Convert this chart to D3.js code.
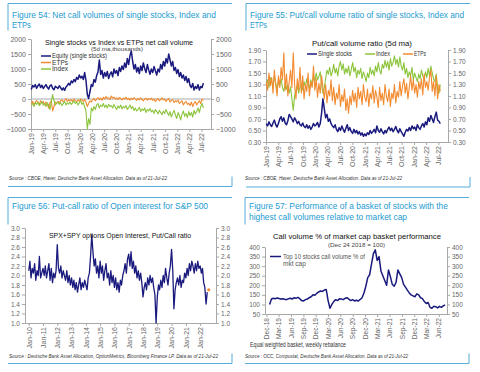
<!DOCTYPE html>
<html>
<head>
<meta charset="utf-8">
<script src="https://cdn.jsdelivr.net/npm/d3@7"></script>
<style>
  body { margin: 0; background: #fff; }
  svg { display: block; font-family: "Liberation Sans", Arial, sans-serif; }
</style>
</head>
<body>
<svg id="chart" width="480" height="372"></svg>
<script>
// Fig 54: net call volume (5d ma, thousands), one reading every 10 days from 2-Jan-19
const netEquity = [
  320, 450, 400, 480, 360, 440, 500, 380, 460, 350,
  420, 480, 390, 330, 440, 470, 360, 310, 420, 390,
  350, 440, 380, 300, 370, 290, 400, 450, 520, 470,
  600, 540, 650, 580, 720, 660, 800, 700, 760, 650,
  880, 620, 150, 20, 250, 480, 420, 650, 560, 780,
  900, 1300, 820, 950, 700, 880, 760, 920, 680, 830,
  900, 740, 1000, 860, 950, 780, 1050, 920, 1100, 980,
  1200, 1050, 1350, 1150, 1450, 1600, 1250, 1000, 1150, 900,
  1050, 850, 1100, 950, 1200, 1020, 880, 1150, 970, 820,
  1000, 880, 1080, 940, 800, 1000, 900, 1150, 1000, 1250,
  1100, 1350, 1200, 1500, 1300, 1100, 1250, 950, 1050, 850,
  980, 750, 880, 700, 800, 620, 750, 550, 680, 450,
  380, 520, 300, 420, 350, 480, 300, 420, 380, 530
];
const netEtps = [
  -150, -80, -200, -100, -50, -120, -180, -60, -140, -90,
  -200, -100, -150, -300, -120, -60, -400, -250, -100, -150,
  -80, -120, -60, -30, -100, -50, 10, -80, -30, -60,
  -20, -90, 0, -50, -100, -30, -70, 0, -40, -80,
  -20, -100, -250, -150, -60, -100, -30, 20, -60, 0,
  50, -20, 30, -40, 60, 0, 80, 20, 40, -10,
  100, 30, 60, 0, 40, -20, 50, 10, -30, 30,
  0, 60, -20, 20, -40, 30, -10, 50, 0, -50,
  20, -30, 40, -10, -60, 0, 30, -40, 10, -20,
  30, -50, 0, -80, -20, 20, -60, -10, 40, -30,
  0, -80, -30, 10, -100, -50, -20, -120, -60, -90,
  -40, -150, -100, -60, -200, -120, -80, -180, -140, -220,
  -100, -250, -150, -80, -200, -120, -60, -150, 0, -50
];
const netIndex = [
  -200, -150, -250, -120, -180, -100, -220, -160, -80, -200,
  -150, -250, -130, -200, -350, -100, 150, -50, -200, -150,
  -100, -180, -120, -220, -150, -80, -200, -130, -170, -100,
  -180, -120, -60, -150, -100, -200, -130, -50, -180, -120,
  -250, -400, -1000, -650, -850, -300, -400, -250, -350, -200,
  -150, -300, -200, -250, -150, -280, -200, -300, -180, -250,
  -220, -300, -180, -280, -350, -230, -300, -200, -330, -250,
  -300, -220, -350, -280, -200, -320, -250, -380, -300, -400,
  -350, -280, -420, -330, -380, -300, -450, -350, -400, -320,
  -430, -380, -480, -350, -420, -500, -380, -450, -520, -400,
  -480, -350, -450, -550, -420, -600, -480, -380, -520, -650,
  -450, -550, -700, -500, -400, -580, -480, -620, -420, -550,
  -450, -600, -380, -500, -420, -300, -450, -250, -150, -300
];

// Fig 55: put/call volume ratio (5d ma), same 10-day steps
const pcSingle = [
  0.62, 0.58, 0.65, 0.60, 0.57, 0.63, 0.68, 0.60, 0.56, 0.62,
  0.70, 0.74, 0.66, 0.72, 0.63, 0.60, 0.67, 0.78, 0.74, 0.70,
  0.65, 0.72, 0.68, 0.62, 0.66, 0.60, 0.58, 0.63, 0.57, 0.55,
  0.60, 0.54, 0.58, 0.52, 0.56, 0.62, 0.58, 0.60, 0.64, 0.56,
  0.62, 0.80, 1.05, 0.88, 0.72, 0.78, 0.66, 0.70, 0.62, 0.58,
  0.55, 0.60, 0.52, 0.48, 0.55, 0.50, 0.58, 0.52, 0.47, 0.54,
  0.60, 0.50, 0.55, 0.48, 0.45, 0.52, 0.46, 0.50, 0.44, 0.48,
  0.42, 0.46, 0.40, 0.44, 0.41, 0.46, 0.43, 0.50, 0.45, 0.48,
  0.52, 0.46, 0.58, 0.50, 0.47, 0.53, 0.48, 0.44, 0.50, 0.46,
  0.52, 0.56, 0.50, 0.54, 0.48, 0.52, 0.57, 0.50, 0.46, 0.53,
  0.48, 0.44, 0.40, 0.47, 0.52, 0.49, 0.55, 0.50, 0.58, 0.53,
  0.56, 0.50, 0.60, 0.55, 0.52, 0.58, 0.62, 0.56, 0.65, 0.60,
  0.72, 0.66, 0.76, 0.70, 0.64, 0.74, 0.82, 0.68, 0.66, 0.62
];
const pcIndex = [
  1.30, 1.38, 1.25, 1.42, 1.35, 1.28, 1.45, 1.32, 1.22, 1.36,
  1.28, 1.40, 1.25, 1.18, 1.32, 1.22, 1.30, 1.15, 1.26, 1.05,
  0.85, 1.10, 1.20, 1.28, 1.15, 1.25, 1.32, 1.20, 1.35, 1.26,
  1.40, 1.30, 1.22, 1.38, 1.28, 1.45, 1.35, 1.50, 1.38, 1.44,
  1.52, 1.30, 1.15, 1.25, 1.40, 1.55, 1.48, 1.60, 1.45, 1.52,
  1.65, 1.50, 1.58, 1.45, 1.62, 1.70, 1.55, 1.66, 1.48, 1.58,
  1.50, 1.62, 1.45, 1.56, 1.68, 1.52, 1.60, 1.42, 1.55, 1.48,
  1.58, 1.40, 1.52, 1.45, 1.35, 1.50, 1.42, 1.60, 1.48, 1.55,
  1.45, 1.62, 1.52, 1.68, 1.55, 1.48, 1.65, 1.58, 1.72, 1.60,
  1.70, 1.55, 1.75, 1.62, 1.68, 1.80, 1.65, 1.74, 1.60, 1.78,
  1.62, 1.55, 1.68, 1.48, 1.58, 1.42, 1.52, 1.45, 1.60, 1.38,
  1.50, 1.42, 1.35, 1.48, 1.40, 1.55, 1.45, 1.38, 1.52, 1.42,
  1.58, 1.45, 1.62, 1.50, 1.40, 1.35, 1.48, 1.22, 1.15, 1.30
];
const pcEtps = [
  1.35, 1.20, 1.50, 1.28, 1.42, 1.15, 1.55, 1.30, 1.10, 1.45,
  1.25, 1.60, 1.38, 1.85, 1.20, 1.48, 1.10, 1.35, 1.55, 1.25,
  1.85, 1.30, 1.05, 1.40, 1.20, 1.60, 1.15, 1.45, 1.05, 1.30,
  1.18, 1.50, 1.10, 1.35, 1.25, 1.62, 1.20, 1.40, 1.08, 1.32,
  1.15, 1.45, 1.25, 1.05, 1.30, 0.98, 1.20, 1.10, 1.38, 1.02,
  1.25, 0.95, 1.15, 1.05, 1.30, 0.92, 1.12, 1.00, 1.22, 0.85,
  1.05, 0.80, 1.10, 0.95, 1.20, 1.00, 1.15, 0.90, 1.25, 1.05,
  1.18, 0.95, 1.30, 1.08, 1.00, 1.22, 0.92, 1.15, 1.05, 1.28,
  0.98, 1.20, 1.08, 0.90, 1.25, 1.02, 1.15, 0.95, 1.30, 1.10,
  1.00, 1.22, 0.92, 1.15, 1.05, 1.30, 0.98, 1.18, 1.08, 1.35,
  1.10, 1.28, 1.40, 1.15, 1.32, 1.05, 1.25, 1.45, 1.20, 1.38,
  1.15, 1.30, 1.08, 1.35, 1.22, 1.40, 1.12, 1.48, 1.25, 1.35,
  1.20, 1.42, 1.55, 1.18, 1.35, 1.10, 1.45, 1.05, 1.30, 1.18
];

// Fig 56: SPX+SPY open interest put/call ratio, monthly from Jan-10
const oiRatio = [
  2.10, 2.30, 1.95, 2.15, 2.05, 2.25, 1.90, 2.10, 2.00, 2.40, 1.95, 2.05,
  2.15, 2.00, 2.20, 1.95, 2.10, 2.25, 1.90, 2.15, 1.85, 2.05, 1.95, 2.10,
  2.65, 2.15, 2.05, 2.20, 1.95, 2.10, 2.00, 1.90, 2.10, 1.85, 2.00, 1.80,
  1.95, 1.75, 1.90, 1.70, 1.85, 1.65, 1.80, 1.95, 1.70, 1.85, 1.75, 1.90,
  1.80, 1.70, 1.95, 2.05, 2.40, 2.85, 2.50, 2.20, 2.35, 2.05, 2.20, 1.95,
  2.30, 2.05, 2.20, 1.90, 2.10, 2.25, 1.95, 2.05, 1.80, 2.10, 1.85, 2.00,
  1.75, 1.95, 1.70, 1.85, 1.65, 1.90, 1.80, 2.00, 2.10, 2.25, 2.05, 2.35,
  2.45, 2.20, 2.50, 2.15, 2.30, 2.05, 2.20, 1.95, 2.10, 1.90, 2.05, 1.85,
  1.55, 1.75, 1.85, 1.70, 1.95, 1.80, 2.00, 1.85, 1.95, 1.75, 1.60, 1.00,
  1.55, 1.80, 1.70, 1.90, 1.75, 2.00, 1.85, 2.15, 1.95, 1.80, 2.05, 2.20,
  2.55, 2.10, 1.30, 1.70, 1.85, 1.95, 1.80, 2.00, 1.75, 1.90, 1.85, 2.05,
  1.95, 2.15, 2.00, 2.25, 2.10, 2.30, 2.20, 2.05, 2.25, 2.10, 2.30, 2.15,
  2.20, 2.05, 2.15, 1.85, 1.75, 1.40, 1.65
];
const oiLatest = 1.70;

// Fig 57: basket performance (24-Dec-18 = 100), every 2 weeks
const basketPerf = [
  100, 128, 132, 130, 134, 131, 128, 130, 127, 125, 130, 132, 128,
  135, 132, 137, 130, 120, 118, 125, 128, 135, 140, 150, 148, 158,
  165, 170, 168, 175, 178, 120, 80, 100,
  115, 125, 120, 130, 128, 125, 132, 135, 128, 120, 125, 118,
  122, 118, 126, 135, 160, 195, 240, 255, 310, 365,
  385, 330, 350, 275, 250,
  225, 200, 280, 245, 205, 195,
  215, 280, 260, 240, 205, 190,
  175, 160, 150, 145, 140, 155, 150, 135,
  130, 115, 105, 110, 85, 80, 90,
  88, 82, 90, 85, 92, 98
];

// axis ticks
const ticks54 = ['2019-01-01', '2019-04-01', '2019-07-01', '2019-10-01', '2020-01-01', '2020-04-01',
  '2020-07-01', '2020-10-01', '2021-01-01', '2021-04-01', '2021-07-01', '2021-10-01',
  '2022-01-01', '2022-04-01', '2022-07-01'];
const ticks56 = ['2010-01-01', '2011-01-01', '2012-01-01', '2013-01-01', '2014-01-01', '2015-01-01',
  '2016-01-01', '2017-01-01', '2018-01-01', '2019-01-01', '2020-01-01', '2021-01-01', '2022-01-01'];
const ticks57 = ['2018-12-01', '2019-03-01', '2019-06-01', '2019-09-01', '2019-12-01', '2020-03-01',
  '2020-06-01', '2020-09-01', '2020-12-01', '2021-03-01', '2021-06-01', '2021-09-01',
  '2021-12-01', '2022-03-01', '2022-06-01'];
const yTicks54 = [-1000, -500, 0, 500, 1000, 1500, 2000];
const yTicks55 = [0.3, 0.5, 0.7, 0.9, 1.1, 1.3, 1.5, 1.7, 1.9];
const yTicks56 = [1.0, 1.2, 1.4, 1.6, 1.8, 2.0, 2.2, 2.4, 2.6, 2.8, 3.0];
const yTicks57 = [50, 100, 150, 200, 250, 300, 350, 400];

/*------------------------------------------------------*/

const svg = d3.select('#chart');
const teal = '#1d9bd1';
const frameCol = '#55acd9';
const navy = '#1a1a7e';
const orange = '#f28b30';
const green = '#8cc43c';
const parse = d3.timeParse('%Y-%m-%d');
const fmtDate = d3.timeFormat('%b-%y');

svg.append('rect').attr('width', 480).attr('height', 372).attr('fill', '#fff');

// panel border: top + left stub, bottom + right stub
function frame(l, r, top, bot) {
  svg.append('path')
    .attr('d', `M${l},${top + 27}V${top}H${r}M${l},${bot}H${r}V${bot - 10}`)
    .attr('fill', 'none')
    .attr('stroke', frameCol)
    .attr('stroke-width', 1);
}

function txt(x, y, s, o = {}) {
  const t = svg.append('text')
    .attr('x', x).attr('y', y)
    .attr('font-size', o.size || 7)
    .attr('fill', o.fill || '#222')
    .attr('text-anchor', o.anchor || 'start')
    .text(s);
  if (o.italic) t.attr('font-style', 'italic');
  if (o.len) t.attr('textLength', o.len).attr('lengthAdjust', 'spacingAndGlyphs');
  return t;
}

// the blue "Figure nn" headings
function heading(x, y, s, len) {
  return txt(x, y, s, { size: 8.7, fill: teal, len });
}

function yAxes(y, xl, xr, ticks, fmt, size) {
  const styleAx = (g) => {
    g.select('.domain').attr('stroke', '#a8a8a8');
    g.selectAll('.tick line').attr('stroke', '#a8a8a8');
    g.selectAll('.tick text').attr('fill', '#666').attr('font-size', size)
      .attr('font-family', null);
  };
  svg.append('g').attr('transform', `translate(${xl},0)`)
    .call(d3.axisLeft(y).tickValues(ticks).tickFormat(fmt).tickSize(3).tickPadding(2).tickSizeOuter(0))
    .call(styleAx);
  svg.append('g').attr('transform', `translate(${xr},0)`)
    .call(d3.axisRight(y).tickValues(ticks).tickFormat(fmt).tickSize(3).tickPadding(2).tickSizeOuter(0))
    .call(styleAx);
}

function xAxis(x, yb, ticks, size) {
  const g = svg.append('g').attr('transform', `translate(0,${yb})`)
    .call(d3.axisBottom(x).tickValues(ticks.map(parse)).tickFormat(fmtDate).tickSize(3).tickSizeOuter(0));
  g.select('.domain').attr('stroke', '#a8a8a8');
  g.selectAll('.tick line').attr('stroke', '#a8a8a8');
  g.selectAll('.tick text')
    .attr('font-family', null)
    .attr('font-size', size || 7)
    .attr('fill', '#666')
    .attr('transform', 'rotate(-90)')
    .attr('x', -4).attr('y', 0).attr('dy', '0.33em')
    .style('text-anchor', 'end');
}

function series(x, y, dates, vals, color, w) {
  const pts = vals.map((v, i) => ({ d: dates(i), v }));
  svg.append('path')
    .datum(pts)
    .attr('fill', 'none')
    .attr('stroke', color)
    .attr('stroke-width', w)
    .attr('stroke-linejoin', 'round')
    .attr('d', d3.line().x(p => x(p.d)).y(p => y(p.v)));
}

function legendLine(x1, x2, yy, color) {
  svg.append('line').attr('x1', x1).attr('x2', x2).attr('y1', yy).attr('y2', yy)
    .attr('stroke', color).attr('stroke-width', 1.5);
}

const tenDay = (i) => d3.timeDay.offset(new Date(2019, 0, 2), 10 * i);

/*
 * Figure 54
 */
frame(8, 232, 3.5, 186.5);
heading(12, 17.5, 'Figure 54: Net call volumes of single stocks, Index and', 204);
heading(12, 28, 'ETPs', 19);
{
  const x = d3.scaleTime().domain([new Date(2018, 11, 31), new Date(2022, 8, 10)]).range([31, 211]);
  const y = d3.scaleLinear().domain([-1000, 2000]).range([129, 39]);
  yAxes(y, 31, 211, yTicks54, d3.format('d'), 7);
  xAxis(x, 129, ticks54);
  svg.append('line').attr('x1', 31).attr('x2', 211).attr('y1', y(0)).attr('y2', y(0))
    .attr('stroke', '#a8a8a8');
  series(x, y, tenDay, netEquity, navy, 1.5);
  series(x, y, tenDay, netEtps, orange, 1.1);
  series(x, y, tenDay, netIndex, green, 1.1);
  txt(119, 44.5, 'Single stocks vs Index vs ETPs net call volume', { size: 8, anchor: 'middle', fill: '#111', len: 148 });
  txt(117, 50.5, '(5d ma,thousands)', { size: 5.8, anchor: 'middle', fill: '#444', len: 52 });
  legendLine(41, 51, 56, navy);
  legendLine(41, 51, 62.5, orange);
  legendLine(41, 51, 69, green);
  txt(52, 58.3, 'Equity (single stocks)', { size: 6.6, fill: '#333', len: 55 });
  txt(52, 64.8, 'ETPs', { size: 6.6, fill: '#333' });
  txt(52, 71.3, 'Index', { size: 6.6, fill: '#333' });
}
txt(9, 179.5, 'Source : CBOE, Haver, Deutsche Bank Asset Allocation. Data as of 21-Jul-22', { size: 5, italic: true, fill: '#333', len: 158 });

/*
 * Figure 55
 */
frame(246, 470, 3.5, 187);
heading(250, 17.5, 'Figure 55: Put/call volume ratio of single stocks, Index and', 214);
heading(250, 28, 'ETPs', 17);
{
  const x = d3.scaleTime().domain([new Date(2018, 11, 31), new Date(2022, 8, 10)]).range([266, 448]);
  const y = d3.scaleLinear().domain([0.3, 1.9]).range([142, 50]);
  yAxes(y, 266, 448, yTicks55, d3.format('.2f'), 6.5);
  xAxis(x, 142, ticks54);
  series(x, y, tenDay, pcSingle, navy, 1.5);
  series(x, y, tenDay, pcIndex, green, 1.1);
  series(x, y, tenDay, pcEtps, orange, 1.1);
  txt(362, 45.5, 'Put/call volume ratio (5d ma)', { size: 8, anchor: 'middle', fill: '#111', len: 100 });
  legendLine(307, 317, 54, navy);
  legendLine(365, 375, 54, green);
  legendLine(403, 413, 54, orange);
  txt(318, 56.3, 'Single stocks', { size: 6.5, fill: '#333', len: 34 });
  txt(376, 56.3, 'Index', { size: 6.5, fill: '#333', len: 14 });
  txt(414, 56.3, 'ETPs', { size: 6.5, fill: '#333', len: 12 });
}
txt(245, 179.5, 'Source : CBOE, Haver, Deutsche Bank Asset Allocation. Data as of 21-Jul-22', { size: 5, italic: true, fill: '#333', len: 157 });

/*
 * Figure 56
 */
frame(8, 232, 197.5, 363.5);
heading(12, 208.5, 'Figure 56: Put-call ratio of Open interest for S&P 500', 196);
{
  const x = d3.scaleTime().domain([new Date(2009, 8, 28), new Date(2023, 1, 10)]).range([25, 216]);
  const y = d3.scaleLinear().domain([1.0, 3.0]).range([323, 228]);
  yAxes(y, 25, 216, yTicks56, d3.format('.1f'), 6.5);
  xAxis(x, 323, ticks56);
  const monthly = (i) => new Date(2010, i, 1);
  series(x, y, monthly, oiRatio, navy, 1.3);
  svg.append('circle')
    .attr('cx', x(monthly(oiRatio.length - 1)) + 1.5)
    .attr('cy', y(oiLatest))
    .attr('r', 1.6)
    .attr('fill', orange);
  txt(120, 237.5, 'SPX+SPY options Open Interest, Put/Call ratio', { size: 8, anchor: 'middle', fill: '#111', len: 142 });
}
txt(9, 358, 'Source : Deutsche Bank Asset Allocation, OptionMetrics, Bloomberg Finance LP. Data as of 21-Jul-22', { size: 5, italic: true, fill: '#333', len: 209 });

/*
 * Figure 57
 */
frame(245, 469, 197.5, 363.5);
heading(249, 208.5, 'Figure 57: Performance of a basket of stocks with the', 199);
heading(249, 219.5, 'highest call volumes relative to market cap', 158);
{
  const x = d3.scaleTime().domain([new Date(2018, 10, 20), new Date(2022, 7, 1)]).range([265, 447]);
  const y = d3.scaleLinear().domain([50, 400]).range([314, 247]);
  yAxes(y, 265, 447, yTicks57, d3.format('d'), 6.5);
  xAxis(x, 314, ticks57, 6.6);
  const biweekly = (i) => d3.timeDay.offset(new Date(2018, 11, 24), 14 * i);
  series(x, y, biweekly, basketPerf, navy, 1.5);
  txt(357, 239, 'Call volume % of market cap basket performance', { size: 8, anchor: 'middle', fill: '#111', len: 168 });
  txt(356.5, 246.8, '(Dec 24 2018 = 100)', { size: 6, anchor: 'middle', fill: '#444', len: 57 });
  legendLine(270, 281, 256.5, navy);
  txt(283, 258.6, 'Top 10 stocks call volume % of', { size: 6.5, fill: '#555', len: 82 });
  txt(283, 266, 'mkt cap', { size: 6.5, fill: '#555' });
  txt(250, 346.5, 'Equal weighted basket, weekly rebalance', { size: 6.5, fill: '#333', len: 96 });
}
txt(245, 358, 'Source : OCC, Compustat, Deutsche Bank Asset Allocation. Data as of 21-Jul-22', { size: 5, italic: true, fill: '#333', len: 163 });
</script>
</body>
</html>
